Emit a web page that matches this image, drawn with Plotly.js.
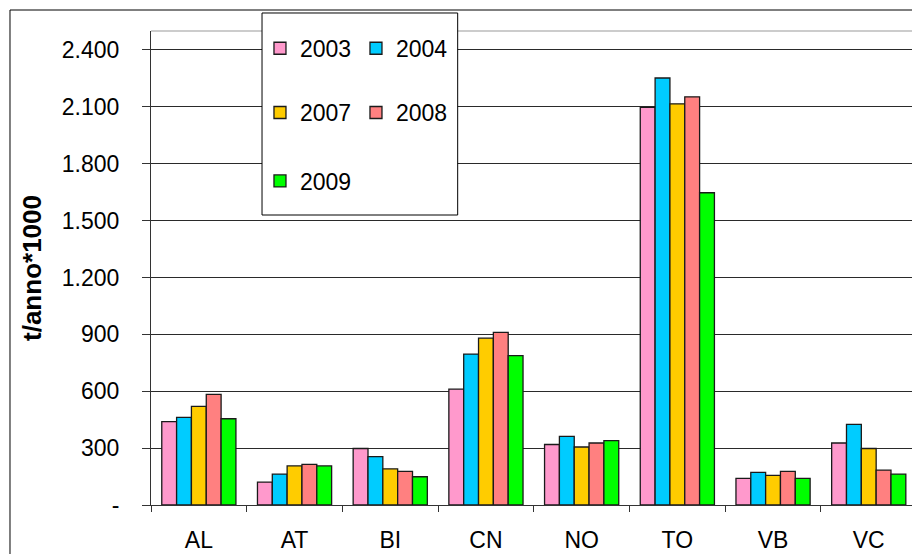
<!DOCTYPE html>
<html>
<head>
<meta charset="utf-8">
<script src="https://cdn.plot.ly/plotly-3.0.1.min.js"></script>
<style>html,body{margin:0;padding:0;background:#fff;}#chart{width:912px;height:554px;}</style>
</head>
<body>
<div id="chart"></div>
<script>
var categories = ["AL", "AT", "BI", "CN", "NO", "TO", "VB", "VC"];
var years = ["2003", "2004", "2007", "2008", "2009"];
var v2003 = [440, 121, 298, 611, 319, 2097, 140, 327];
var v2004 = [462, 163, 255, 796, 362, 2252, 172, 425];
var v2007 = [520, 206, 191, 880, 306, 2116, 156, 298];
var v2008 = [583, 214, 177, 910, 327, 2153, 177, 184];
var v2009 = [455, 206, 149, 788, 340, 1647, 140, 163];
var tickValues = [0, 300, 600, 900, 1200, 1500, 1800, 2100, 2400];
var tickLabels = ["-", "300", "600", "900", "1.200", "1.500", "1.800", "2.100", "2.400"];

var series = [v2003, v2004, v2007, v2008, v2009];
var colors = ["#FF99CC", "#00CCFF", "#FFCC00", "#FF8080", "#00FF00"];
var legendIds = ["legend", "legend", "legend2", "legend2", "legend3"];

var FONT = "'Liberation Sans', Arial, sans-serif";

var traces = series.map(function (vals, i) {
  return {
    type: "bar",
    name: years[i],
    x: categories,
    y: vals,
    legend: legendIds[i],
    marker: { color: colors[i], line: { color: "#1a1a1a", width: 1.3 } },
    hoverinfo: "x+y+name"
  };
});

var legendCommon = {
  orientation: "h",
  xanchor: "left",
  yanchor: "middle",
  x: 0.1432,
  bgcolor: "rgba(0,0,0,0)",
  borderwidth: 0,
  font: { family: FONT, size: 23, color: "#000" },
  entrywidth: 51,
  traceorder: "normal"
};

var layout = {
  width: 912,
  height: 554,
  margin: { l: 151, r: 0, t: 31, b: 49, pad: 0 },
  paper_bgcolor: "#fff",
  plot_bgcolor: "#fff",
  font: { family: FONT, size: 23, color: "#000" },
  barmode: "group",
  bargap: 0.225,
  bargroupgap: 0,
  showlegend: true,
  legend: Object.assign({}, legendCommon, { y: 0.9635 }),
  legend2: Object.assign({}, legendCommon, { y: 0.828 }),
  legend3: Object.assign({}, legendCommon, { y: 0.6835 }),
  xaxis: {
    type: "category",
    range: [-0.5, 7.452],
    showline: true,
    linecolor: "#333",
    linewidth: 1,
    ticks: "outside",
    tickson: "boundaries",
    ticklen: 6,
    tickcolor: "#333",
    tickfont: { family: FONT, size: 23, color: "#000" },
    ticklabelstandoff: 14,
    showgrid: false,
    zeroline: false,
    fixedrange: true
  },
  yaxis: {
    range: [0, 2500],
    tickvals: tickValues,
    ticktext: tickLabels,
    showline: true,
    linecolor: "#333",
    linewidth: 1,
    ticks: "outside",
    ticklen: 8,
    tickcolor: "#333",
    tickfont: { family: FONT, size: 23, color: "#000" },
    ticklabelstandoff: 18,
    showgrid: true,
    gridcolor: "#2a2a2a",
    gridwidth: 1,
    zeroline: false,
    fixedrange: true,
    title: {
      text: "t/anno*1000",
      font: { family: FONT, size: 26, color: "#000", weight: "bold" },
      standoff: 12
    }
  },
  shapes: [
    { type: "line", xref: "paper", yref: "paper", x0: 0, x1: 1.01, y0: 1, y1: 1,
      line: { color: "#999", width: 1 }, layer: "below" },
    { type: "rect", xref: "paper", yref: "paper", x0: -0.1853, x1: 1.05, y0: -0.2, y1: 1.0443,
      line: { color: "#000", width: 1 }, fillcolor: "rgba(0,0,0,0)", layer: "above" },
    { type: "rect", xref: "paper", yref: "paper", x0: 0.1459, x1: 0.403, y0: 0.6118, y1: 1.038,
      line: { color: "#000", width: 1 }, fillcolor: "#fff", layer: "above" }
  ]
};

Plotly.newPlot("chart", traces, layout, { displayModeBar: false, staticPlot: true });
</script>
</body>
</html>
